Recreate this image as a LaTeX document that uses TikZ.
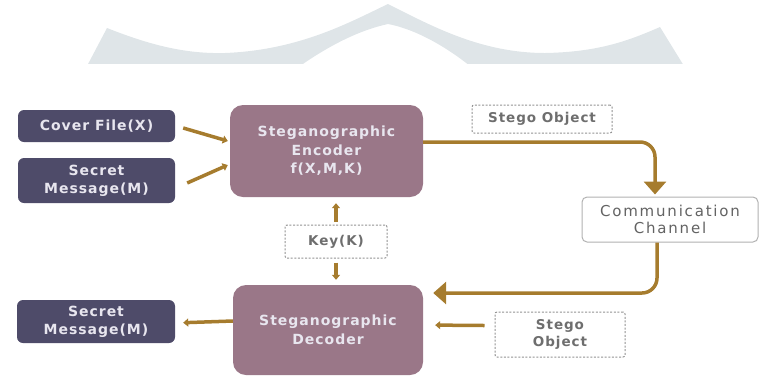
\documentclass[tikz,border=0pt]{standalone}
\usepackage{fontspec}
\usetikzlibrary{arrows.meta}
\newfontfamily\dfont[LetterSpace=7]{DejaVu Sans}
\newfontfamily\cfont[LetterSpace=12]{DejaVu Sans}
\definecolor{wm}{HTML}{DFE5E8}
\definecolor{darkbox}{HTML}{4E4B69}
\definecolor{mauve}{HTML}{9A7788}
\definecolor{arrowc}{HTML}{A67C2E}
\definecolor{graytxt}{HTML}{6E6E6E}
\definecolor{lighttxt}{HTML}{E8E6EF}
\tikzset{
  darknode/.style={draw=none, fill=darkbox, rounded corners=6pt, inner sep=0pt,
    text=lighttxt, font=\dfont\bfseries\fontsize{14}{18}\selectfont, align=center},
  mauvenode/.style={draw=none, fill=mauve, rounded corners=13pt, inner sep=0pt,
    text=lighttxt, font=\dfont\bfseries\fontsize{14}{18.5}\selectfont, align=center},
  dashnode/.style={draw=gray!85, line width=1pt, dash pattern=on 2pt off 1.6pt, fill=white,
    rounded corners=2pt, inner sep=0pt, text=graytxt,
    font=\dfont\bfseries\fontsize{13.5}{16.5}\selectfont, align=center},
  chnode/.style={draw=gray!60, line width=1pt, fill=white, rounded corners=5pt, inner sep=0pt,
    text=graytxt!90!black, font=\cfont\fontsize{15}{16.5}\selectfont, align=center},
  arr/.style={draw=arrowc, line width=3.5pt, -{Triangle[length=5pt,width=8pt]}},
  bigarr/.style={draw=arrowc, line width=3.5pt, rounded corners=15pt, -{Triangle[length=13pt,width=22pt]}},
}
\begin{document}
\begin{tikzpicture}[x=1pt,y=-1pt]
\useasboundingbox (0,0) rectangle (759,376);
% watermark
\begin{scope}
\clip (0,0) rectangle (759,63);
\fill[wm] (87,66) -- (107,28) .. controls (150,45) and (185,54) .. (225,53)
  .. controls (300,50) and (350,22) .. (388,4)
  .. controls (430,25) and (480,53) .. (545,53)
  .. controls (600,52) and (630,40) .. (660,27) -- (684,66)
  -- (470,66) .. controls (440,42) and (410,28) .. (388,24)
  .. controls (360,30) and (330,45) .. (300,66) -- cycle;
\end{scope}
% nodes
\node[darknode, minimum width=157pt, minimum height=32pt] (cover) at (96.5,126) {Cover File(X)};
\node[darknode, minimum width=157pt, minimum height=45pt] (sec1) at (96.5,180.5) {Secret\\Message(M)};
\node[darknode, minimum width=158pt, minimum height=43pt] (sec2) at (96,321.5) {Secret\\Message(M)};
\node[mauvenode, minimum width=193pt, minimum height=92pt] (enc) at (326.5,151) {Steganographic\\Encoder\\f(X,M,K)};
\node[mauvenode, minimum width=190pt, minimum height=90pt] (dec) at (328,330) {Steganographic\\Decoder};
\node[dashnode, minimum width=102pt, minimum height=33pt] (key) at (336,241.5) {Key(K)};
\node[dashnode, minimum width=140pt, minimum height=28pt] (so1) at (542,119) {Stego Object};
\node[chnode, minimum width=176pt, minimum height=45pt] (chan) at (670,219.5) {Communication\\Channel};
\node[dashnode, minimum width=130pt, minimum height=45pt] (so2) at (560,334.5) {Stego\\Object};
% connectors
\draw[arr] ([xshift=8pt,yshift=-2pt]cover.east) -- ([xshift=-2pt,yshift=10pt]enc.west);
\draw[arr] ([xshift=12pt,yshift=-2.5pt]sec1.east) -- ([xshift=-2pt,yshift=-14pt]enc.west);
\draw[arr, shorten <=3pt, shorten >=6pt] (key.north) -- (key.north |- enc.south);
\draw[arr, shorten <=4pt, shorten >=5pt] (key.south) -- (key.south |- dec.north);
\draw[bigarr] ([yshift=9pt]enc.east) -| ([xshift=-15pt,yshift=2pt]chan.north);
\draw[bigarr, shorten >=10pt] ([xshift=-13pt]chan.south) |- ([yshift=37pt]dec.east);
\draw[arr, shorten >=12pt] ([xshift=-10pt,yshift=9pt]so2.west) -- ([yshift=5pt]dec.east);
\draw[arr, shorten >=8pt] ([yshift=9pt]dec.west) -- ([yshift=-1.5pt]sec2.east);
\end{tikzpicture}
\end{document}
